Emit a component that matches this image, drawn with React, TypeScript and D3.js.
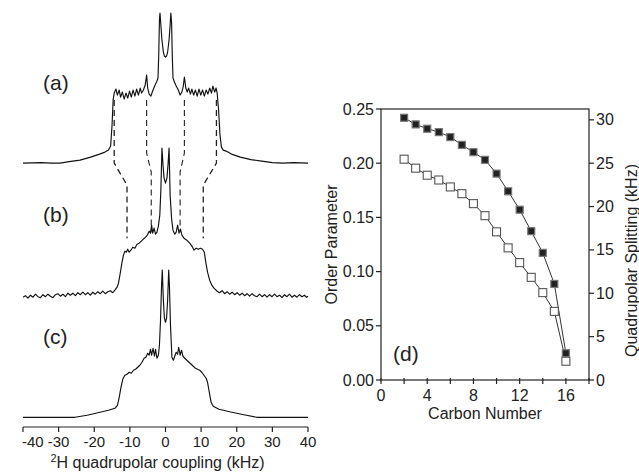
import React from "react";
import * as d3 from "d3";

// ---------- Left panel: 2H NMR spectra (kHz, height above trace baseline, a.u.) ----------
const spectrumA_kHz = [-40,-35,-32,-29.6,-27,-24,-21,-18.5,-17,-16,-15.4,-15.0,-14.7,-14.4,-13.9,-13.5,-13.0,-12.6,-12.1,-11.6,-11.1,-10.6,-10.1,-9.6,-9.1,-8.6,-8.1,-7.6,-7.1,-6.7,-6.2,-5.7,-5.3,-5.0,-4.6,-4.1,-3.5,-2.8,-2.5,-2.1,-1.9,-1.7,-1.55,-1.3,-1.0,-0.6,-0.3,0,0.3,0.6,1.0,1.3,1.5,1.7,1.9,2.1,2.5,3.0,3.6,4.1,4.6,5.0,5.3,5.7,6.1,6.5,7.0,7.4,7.9,8.4,8.9,9.4,9.9,10.4,10.9,11.4,11.9,12.4,12.9,13.3,13.8,14.2,14.5,14.9,15.3,15.7,16.2,17,18.5,21,24,27,30,33,36,40];
const spectrumA_int = [0,0.5,0,0,1.5,3,6,9,11,13,17,38,63,70,74,68,73,66,71,64,70,65,72,66,73,67,74,68,75,70,73,78,88,75,69,67,73,79,81,85,108,143,150,138,123,111,107,106,107,111,123,138,150,141,108,85,81,77,73,68,71,77,86,75,71,75,69,74,68,73,67,74,68,73,67,73,69,75,70,77,71,75,70,53,28,16,13,12,9,6,3.5,2,0.5,0,0.5,0];

const spectrumB_kHz = [-40,-39.3,-38.6,-37.9,-37.2,-36.5,-35.8,-35.1,-34.4,-33.7,-33.0,-32.3,-31.6,-30.9,-30.2,-29.5,-28.8,-28.1,-27.4,-26.7,-26.0,-25.3,-24.6,-23.9,-23.2,-22.5,-21.8,-21.1,-20.4,-19.7,-19.0,-18.3,-17.6,-16.9,-16.2,-15.5,-14.8,-14.2,-13.6,-13.2,-12.7,-12.2,-11.8,-11.4,-11.0,-10.6,-10.2,-9.7,-9.2,-8.6,-8.0,-7.4,-6.8,-6.2,-5.6,-5.1,-4.6,-4.2,-3.9,-3.6,-3.2,-2.8,-2.4,-2.0,-1.6,-1.3,-1.0,-0.7,-0.4,0,0.4,0.7,1.0,1.3,1.7,2.1,2.6,3.0,3.4,3.8,4.2,4.6,5.2,6.0,6.8,7.6,8.0,8.6,9.2,9.8,10.4,10.9,11.3,11.8,12.4,13.0,13.6,14.5,15.2,15.9,16.6,17.3,18.0,18.7,19.4,20.1,20.8,21.5,22.2,22.9,23.6,24.3,25.0,25.7,26.4,27.1,27.8,28.5,29.2,29.9,30.6,31.3,32.0,32.7,33.4,34.1,34.8,35.5,36.2,36.9,37.6,38.3,39.0,39.6,40];
const spectrumB_int = [-2,-0.5,-3,0,-2,1,-1.5,-2.5,0.5,-1.5,1,-1,-2.5,0.5,1.5,-1,1,-1.5,2,0,2,-0.5,2.5,0.5,3,0.5,2.5,0,3,1,3.5,1.5,4,1.5,3.5,4.5,2.5,5,8,12,22,33,40,44,43,46,43,45,48,47,51,52,54,56,58,60,64,62,70,62,67,61,63,69,80,105,147,130,117,112,117,130,147,100,77,65,61,63,70,62,66,60,57,55,52,48,45,47,46,47,46,43,33,23,15,10,7,4,2.5,4.5,1.5,3.5,1,3,0.5,2.5,0,2,-0.5,1.5,-1,1.5,-0.5,-1.5,1,-1.5,0.5,-2,0.5,-1.5,1,-1.5,0,-2.5,0.5,-1.5,1,-2,0,-2,0.5,-1.5,0,-2,-1];

const spectrumC_kHz = [-40,-25.4,-22,-19,-16,-14.2,-13.5,-13.0,-12.5,-12.0,-11.4,-10.8,-10.2,-9.6,-9.0,-8.4,-7.8,-7.2,-6.6,-6.0,-5.5,-5.0,-4.6,-4.2,-3.9,-3.5,-3.1,-2.8,-2.4,-2.0,-1.7,-1.4,-1.1,-0.9,-0.6,-0.3,0,0.3,0.6,0.9,1.1,1.4,1.8,2.2,2.6,3.0,3.4,3.7,4.1,4.5,4.9,5.4,6.0,6.6,7.2,7.8,8.4,9.0,9.6,10.2,10.8,11.4,11.8,12.3,12.8,13.4,15,18,22,25.6,40];
const spectrumC_int = [0,0,2,4.5,7,9,12,20,30,38,42,43,45,44,47,48,50,52,55,59,60,64,62,68,62,69,61,68,59,62,72,97,132,147,117,99,95,99,117,147,132,92,60,57,61,65,63,70,62,67,61,59,57,55,53,51,49,48,47,45,42,39,35,25,15,11,8,5.5,2.5,0,0];

// vertical offsets of each trace (a.u.)
const traceNames = ["(a)", "(b)", "(c)"];
const traceOffsets = [254, 122, 0];

// dashed guide lines (kHz, stacked a.u.)
const guideKHz = [
  [-14.4, -14.4, -10.8, -10.8],
  [-5.3, -5.3, -4.0, -4.0],
  [5.3, 5.3, 4.1, 4.1],
  [14.3, 14.3, 10.6, 10.6],
];
const guideLevel = [
  [317, 254, 232, 179],
  [317, 264, 245, 185],
  [317, 264, 245, 185],
  [317, 254, 232, 179],
];

const leftTicks = [-40, -30, -20, -10, 0, 10, 20, 30, 40];

// ---------- Right panel: order parameter vs carbon number ----------
const carbonNumbers = [2, 3, 4, 5, 6, 7, 8, 9, 10, 11, 12, 13, 14, 15, 16];
const orderFilled = [0.2419, 0.2358, 0.2318, 0.2287, 0.2241, 0.2169, 0.2102, 0.2031, 0.1904, 0.1741, 0.1571, 0.1373, 0.1173, 0.0886, 0.0247];
const orderOpen = [0.2037, 0.1954, 0.1889, 0.1845, 0.1781, 0.1719, 0.1627, 0.1516, 0.1367, 0.1219, 0.1083, 0.0947, 0.0806, 0.0633, 0.0173];
const xTicksMajor = [0, 4, 8, 12, 16];
const xTicksAll = [0, 2, 4, 6, 8, 10, 12, 14, 16, 18];
const yTicksLeft = [0, 0.05, 0.1, 0.15, 0.2, 0.25];
const yTicksRight = [0, 5, 10, 15, 20, 25, 30];

const FONT = "'Liberation Sans', Arial, Helvetica, sans-serif";

export default function App() {
  const W = 639, H = 474;

  // left panel scales
  const xL = d3.scaleLinear().domain([-40, 40]).range([23, 308]);
  const yL = d3.scaleLinear().domain([0, 404]).range([417.3, 13]);
  const axisYL = 427;

  const spectra = [
    { k: spectrumA_kHz, v: spectrumA_int },
    { k: spectrumB_kHz, v: spectrumB_int },
    { k: spectrumC_kHz, v: spectrumC_int },
  ];
  const traceLabelY = [90, 222, 344];

  const lineGen = (off: number) =>
    d3.line<[number, number]>()
      .x((d) => xL(d[0]))
      .y((d) => yL(d[1] + off));

  const guideLine = d3.line<[number, number]>().x((d) => xL(d[0])).y((d) => yL(d[1]));

  // right panel scales
  const xR = d3.scaleLinear().domain([0, 18]).range([381, 589]);
  const yR = d3.scaleLinear().domain([0, 0.25]).range([380, 109]);
  const yR2 = d3.scaleLinear().domain([0, 31.25]).range([380, 109]);
  const lineR = d3.line<[number, number]>().x((d) => xR(d[0])).y((d) => yR(d[1]));
  const filledPts = carbonNumbers.map((c, i) => [c, orderFilled[i]] as [number, number]);
  const openPts = carbonNumbers.map((c, i) => [c, orderOpen[i]] as [number, number]);

  return (
    <svg width={W} height={H} style={{ position: "absolute", left: 0, top: 0, background: "#fff" }} fontFamily={FONT}>
      <rect width={W} height={H} fill="#fff" />
      {/* spectra */}
      {spectra.map((s, i) => (
        <path
          key={i}
          d={lineGen(traceOffsets[i])(s.k.map((k, j) => [k, s.v[j]] as [number, number])) || ""}
          fill="none"
          stroke="#111"
          strokeWidth={1.15}
          strokeLinejoin="round"
        />
      ))}
      {/* dashed guides */}
      {guideKHz.map((g, i) => (
        <path
          key={i}
          d={guideLine(g.map((k, j) => [k, guideLevel[i][j]] as [number, number])) || ""}
          fill="none"
          stroke="#222"
          strokeWidth={i === 0 || i === 3 ? 1.3 : 1.1}
          strokeDasharray="6,4"
        />
      ))}
      {traceNames.map((t, i) => (
        <text key={t} x={43} y={traceLabelY[i]} fontSize={21} fill="#222">{t}</text>
      ))}
      {/* left x axis */}
      <line x1={xL(-40)} x2={xL(40)} y1={axisYL} y2={axisYL} stroke="#222" strokeWidth={1.2} />
      {leftTicks.map((t, i) => (
        <g key={t}>
          <line x1={xL(t)} x2={xL(t)} y1={axisYL} y2={axisYL + 5} stroke="#222" strokeWidth={1.2} />
          <text x={i === 0 ? xL(t) - 1 : xL(t)} y={447} fontSize={15} textAnchor={i === 0 ? "start" : "middle"} fill="#222">{t}</text>
        </g>
      ))}
      <text x={xL(0) - 8} y={468} fontSize={16} textAnchor="middle" fill="#222">
        <tspan fontSize={11} dy={-6}>2</tspan>
        <tspan dy={6}>H quadrupolar coupling (kHz)</tspan>
      </text>

      {/* right panel frame */}
      <rect x={xR(0)} y={yR(0.25)} width={xR(18) - xR(0)} height={yR(0) - yR(0.25)} fill="none" stroke="#222" strokeWidth={1.2} />
      {xTicksAll.map((t) => (
        <line key={t} x1={xR(t)} x2={xR(t)} y1={yR(0) - 2} y2={yR(0) + 4} stroke="#222" strokeWidth={1.2} />
      ))}
      {xTicksMajor.map((t) => (
        <text key={t} x={xR(t)} y={401} fontSize={16} textAnchor="middle" fill="#222">{t}</text>
      ))}
      <text x={xR(9)} y={419} fontSize={16} textAnchor="middle" fill="#222">Carbon Number</text>
      {yTicksLeft.map((t) => (
        <g key={t}>
          <line x1={xR(0) - 5} x2={xR(0)} y1={yR(t)} y2={yR(t)} stroke="#222" strokeWidth={1.2} />
          <text x={xR(0) - 7} y={yR(t) + 5.5} fontSize={16} textAnchor="end" fill="#222">{t.toFixed(2)}</text>
        </g>
      ))}
      {yTicksRight.map((t) => (
        <g key={t}>
          <line x1={xR(18)} x2={xR(18) + 5} y1={yR2(t)} y2={yR2(t)} stroke="#222" strokeWidth={1.2} />
          <text x={xR(18) + 7} y={yR2(t) + 5.5} fontSize={16} textAnchor="start" fill="#222">{t}</text>
        </g>
      ))}
      <text transform={`translate(337,${(yR(0) + yR(0.25)) / 2}) rotate(-90)`} fontSize={16} textAnchor="middle" fill="#222">Order Parameter</text>
      <text transform={`translate(637,${(yR(0) + yR(0.25)) / 2 + 16}) rotate(-90)`} fontSize={16} textAnchor="middle" fill="#222">Quadrupolar Splitting (kHz)</text>
      <text x={393} y={361} fontSize={21} fill="#222">(d)</text>

      {/* data lines */}
      <path d={lineR(openPts) || ""} fill="none" stroke="#333" strokeWidth={1} />
      <path d={lineR(filledPts) || ""} fill="none" stroke="#333" strokeWidth={1} />
      {openPts.map((p, i) => (
        <rect key={"o" + i} x={xR(p[0]) - 4} y={yR(p[1]) - 4} width={8} height={8} fill="#fff" stroke="#555" strokeWidth={1.1} />
      ))}
      {filledPts.map((p, i) => (
        <rect key={"f" + i} x={xR(p[0]) - 3.5} y={yR(p[1]) - 3.5} width={7} height={7} fill="#222" stroke="#777" strokeWidth={1.2} />
      ))}
    </svg>
  );
}
